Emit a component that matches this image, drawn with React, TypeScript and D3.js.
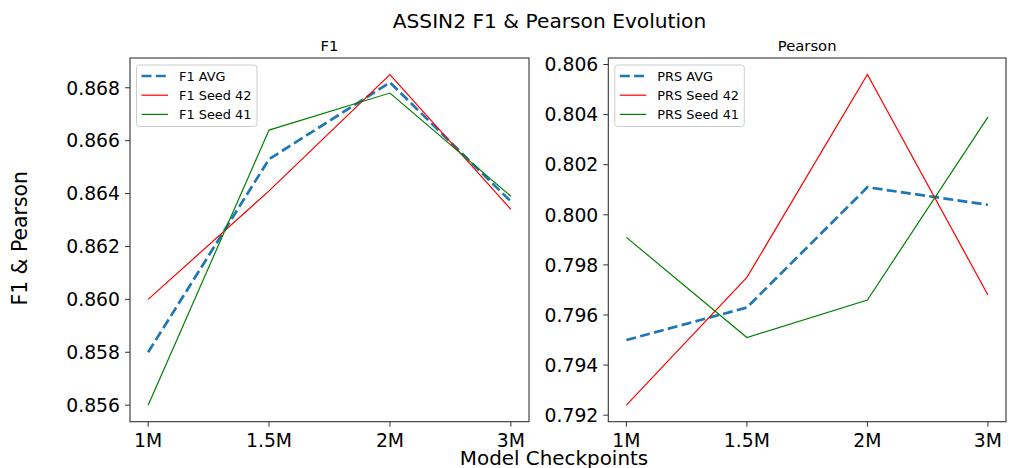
import React from "react";
import * as d3 from "d3";

const checkpoints = ["1M", "1.5M", "2M", "3M"];

const f1Avg = [0.858, 0.8653, 0.8682, 0.8637];
const f1Seed42 = [0.86, 0.8641, 0.8685, 0.8634];
const f1Seed41 = [0.856, 0.8664, 0.8678, 0.8639];
const f1Ticks = [0.856, 0.858, 0.86, 0.862, 0.864, 0.866, 0.868];

const prsAvg = [0.795, 0.7963, 0.8011, 0.8004];
const prsSeed42 = [0.7924, 0.7975, 0.8056, 0.7968];
const prsSeed41 = [0.7991, 0.7951, 0.7966, 0.8039];
const prsTicks = [0.792, 0.794, 0.796, 0.798, 0.8, 0.802, 0.804, 0.806];

const FONT = "DejaVu Sans, Liberation Sans, sans-serif";

type Series = { label: string; values: number[]; color: string; width: number; dash?: string };

function Panel({
  x0, x1, y0, y1, title, series, ticks,
}: {
  x0: number; x1: number; y0: number; y1: number; title: string; series: Series[]; ticks: number[];
}) {
  const all = series.flatMap((s) => s.values);
  const mn = d3.min(all)!;
  const mx = d3.max(all)!;
  const m = (mx - mn) * 0.05;
  const x = d3.scaleLinear().domain([-0.15, checkpoints.length - 1 + 0.15]).range([x0, x1]);
  const y = d3.scaleLinear().domain([mn - m, mx + m]).range([y1, y0]);
  const line = d3
    .line<number>()
    .x((_, i) => x(i))
    .y((d) => y(d));
  const legX = x0 + 6.5;
  const legY = y0 + 7;
  const legW = title === "F1" ? 120.5 : 129.5;
  return (
    <g>
      <text x={(x0 + x1) / 2} y={y0 - 7} textAnchor="middle" fontSize={14.8} fontFamily={FONT} fill="#000">
        {title}
      </text>
      {series.map((s) => (
        <path key={s.label} d={line(s.values)!} fill="none" stroke={s.color} strokeWidth={s.width}
          strokeDasharray={s.dash} />
      ))}
      <rect x={x0} y={y0} width={x1 - x0} height={y1 - y0} fill="none" stroke="#333" strokeWidth={1.1} />
      {checkpoints.map((c, i) => (
        <g key={c}>
          <line x1={x(i)} x2={x(i)} y1={y1} y2={y1 + 5} stroke="#333" strokeWidth={1} />
          <text x={x(i)} y={y1 + 25} textAnchor="middle" fontSize={18.8} fontFamily={FONT} fill="#000">
            {c}
          </text>
        </g>
      ))}
      {ticks.map((t) => (
        <g key={t}>
          <line x1={x0 - 5} x2={x0} y1={y(t)} y2={y(t)} stroke="#333" strokeWidth={1} />
          <text x={x0 - 10} y={y(t)} dy="0.36em" textAnchor="end" fontSize={18.8} fontFamily={FONT} fill="#000">
            {d3.format(".3f")(t)}
          </text>
        </g>
      ))}
      <rect x={legX} y={legY} width={legW} height={61.5} rx={3} fill="#fff" fillOpacity={0.8}
        stroke="#ccc" strokeWidth={1} />
      {series.map((s, i) => {
        const yy = legY + 11 + i * 19.2;
        return (
          <g key={s.label}>
            <line x1={legX + 5} x2={legX + 31.5} y1={yy} y2={yy} stroke={s.color} strokeWidth={s.width}
              strokeDasharray={s.dash} />
            <text x={legX + 42.5} y={yy} dy="0.36em" fontSize={12.9} fontFamily={FONT} fill="#000">
              {s.label}
            </text>
          </g>
        );
      })}
    </g>
  );
}

export default function App() {
  const Y0 = 58;
  const Y1 = 421.7;
  return (
    <svg width={1010} height={468} style={{ position: "absolute", left: 0, top: 0, background: "#fff" }}>
      <rect width={1010} height={468} fill="#fff" />
      <text x={549.5} y={28} textAnchor="middle" fontSize={20.2} fontFamily={FONT} fill="#000">
        ASSIN2 F1 &amp; Pearson Evolution
      </text>
      <text transform="translate(27,238.3) rotate(-90)" textAnchor="middle" fontSize={20.4} fontFamily={FONT} fill="#000">
        F1 &amp; Pearson
      </text>
      <text x={554} y={465} textAnchor="middle" fontSize={19.9} fontFamily={FONT} fill="#000">
        Model Checkpoints
      </text>
      <Panel x0={130} x1={529} y0={Y0} y1={Y1} title="F1" ticks={f1Ticks}
        series={[
          { label: "F1 AVG", values: f1Avg, color: "#1f77b4", width: 2.7, dash: "10,4.3" },
          { label: "F1 Seed 42", values: f1Seed42, color: "#ff0000", width: 1.2 },
          { label: "F1 Seed 41", values: f1Seed41, color: "#008000", width: 1.2 },
        ]} />
      <Panel x0={608.3} x1={1006} y0={Y0} y1={Y1} title="Pearson" ticks={prsTicks}
        series={[
          { label: "PRS AVG", values: prsAvg, color: "#1f77b4", width: 2.7, dash: "10,4.3" },
          { label: "PRS Seed 42", values: prsSeed42, color: "#ff0000", width: 1.2 },
          { label: "PRS Seed 41", values: prsSeed41, color: "#008000", width: 1.2 },
        ]} />
    </svg>
  );
}
